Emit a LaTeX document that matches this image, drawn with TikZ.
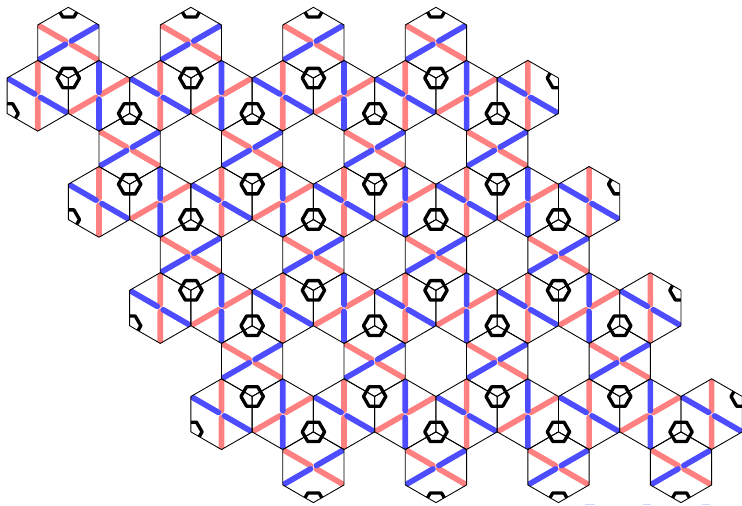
\documentclass[tikz,border=0pt]{standalone}
\usepackage{xcolor}
\usepackage{tikz}
\definecolor{bondred}{RGB}{255, 128, 128}
\definecolor{bondblue}{RGB}{77, 77, 255}
\definecolor{marklilac}{RGB}{212, 212, 245}
\tikzset{
  cellline/.style={black, line width=0.5pt, line join=round},
  bondline/.style={line width=3.2pt, line cap=round, shorten <=1.9pt},
  ringline/.style={black, line width=1.9pt, line join=round}
}
\newcommand{\hexr}{35.38}
\newcommand{\ringr}{11.2}
\newcommand{\cellpath}{(30:\hexr) -- (90:\hexr) -- (150:\hexr) -- (210:\hexr) -- (270:\hexr) -- (330:\hexr) -- cycle}
% Bonds and rings of one cell, cut off at the cell border
\newcommand{\cellfill}[3]{
  \begin{scope}[shift={(#1,#2)}, rotate=#3]
    \clip \cellpath;
    \foreach \a in {150,330} \draw[bondline, bondred] (0,0) -- (\a:\hexr);
    \foreach \a in {30,210} \draw[bondline, bondblue] (0,0) -- (\a:\hexr);
    \foreach \a in {90,270} \draw[ringline, shift={(\a:\hexr)}] (0:\ringr) -- (60:\ringr) -- (120:\ringr) -- (180:\ringr) -- (240:\ringr) -- (300:\ringr) -- cycle;
  \end{scope}
}
\newcommand{\celledge}[3]{
  \begin{scope}[shift={(#1,#2)}, rotate=#3]
    \draw[cellline] \cellpath;
  \end{scope}
}
% All cells: even rows hold one kind, odd rows alternate the two others
\newcommand{\placecells}[1]{
  \foreach \r in {0,2,4,6,8} \foreach \k in {0,...,3}
    #1{{68.36+\r*30.63+\k*122.52}}{{462.32-\r*53.07}}{0};
  \foreach \r in {1,3,5,7} \foreach \k in {0,...,4}
    #1{{37.73+(\r-1)*30.63+\k*122.52}}{{462.32-\r*53.07}}{-60};
  \foreach \r in {1,3,5,7} \foreach \k in {0,...,3}
    #1{{98.99+(\r-1)*30.63+\k*122.52}}{{462.32-\r*53.07}}{60};
}
\begin{document}
\begin{tikzpicture}[x=0.02cm, y=0.02cm]
\useasboundingbox (0,0) rectangle (742,505);
% Bonds and rings first, thin cell borders on top
\placecells{\cellfill}
\placecells{\celledge}

% Small marks at the lower border
\fill[marklilac] (585,0) rectangle (595,1.5);
\fill[marklilac] (643,0) rectangle (651,1.5);
\fill[marklilac] (702,0) rectangle (710,1.5);
\end{tikzpicture}
\end{document}
